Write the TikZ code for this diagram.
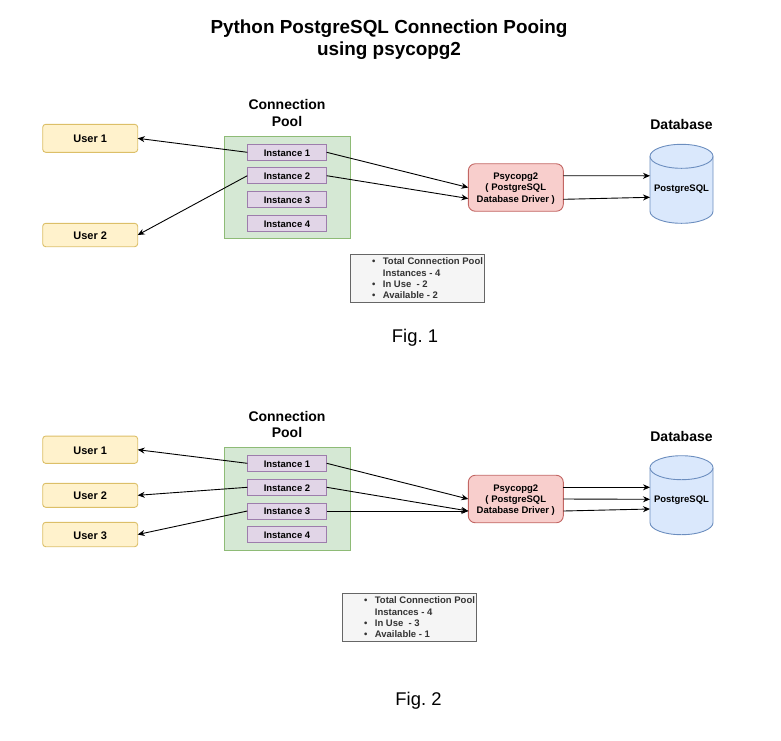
\documentclass[tikz,border=0pt]{standalone}
\usepackage{fontspec}
\setmainfont{Liberation Sans}
\usetikzlibrary{arrows.meta,calc}
\definecolor{yfill}{HTML}{FFF2CC}\definecolor{yline}{HTML}{D6B656}
\definecolor{gfill}{HTML}{D5E8D4}\definecolor{gline}{HTML}{82B366}
\definecolor{pfill}{HTML}{E1D5E7}\definecolor{pline}{HTML}{9673A6}
\definecolor{rfill}{HTML}{F8CECC}\definecolor{rline}{HTML}{B85450}
\definecolor{bfill}{HTML}{DAE8FC}\definecolor{bline}{HTML}{6C8EBF}
\definecolor{ifill}{HTML}{F5F5F5}\definecolor{iline}{HTML}{666666}
\definecolor{itext}{HTML}{333333}
\newcommand{\fs}[2]{\fontsize{#1pt}{#2pt}\selectfont}
\newcommand{\infolist}[3]{{\setlength{\tabcolsep}{0pt}\renewcommand{\arraystretch}{1}%
\begin{tabular}{@{\hspace{20pt}}l@{\hspace{7.5pt}}l@{}}
\textbullet & Total Connection Pool\\
 & Instances - #1\\
\textbullet & In Use~ - #2\\
\textbullet & Available - #3
\end{tabular}}}
\newcommand{\dbbody}[2]{%
  \begin{scope}[shift={(#1,#2)}]
    \draw[dbline] (-31.5,-27.5) arc[start angle=180,end angle=0,x radius=31.5pt,y radius=12pt]
      -- (31.5,27.5) arc[start angle=360,end angle=180,x radius=31.5pt,y radius=12pt] -- cycle;
    \draw[dbline] (-31.5,-27.5) arc[start angle=180,end angle=360,x radius=31.5pt,y radius=12pt];
  \end{scope}}
\tikzset{
  base/.style={inner sep=0pt,outer sep=0pt,line width=0.9pt,align=center,font=\bfseries\fs{9.5}{11.2}},
  userbox/.style={base,draw=yline!85!yfill,fill=yfill,rounded corners=3pt,minimum width=95pt,font=\bfseries\fs{11}{13},text height=9.2pt,text depth=0pt},
  poolbox/.style={base,draw=gline!85!gfill,fill=gfill,minimum width=126pt,minimum height=102.5pt},
  instbox/.style={base,draw=pline!90!pfill,fill=pfill,minimum width=79.4pt,minimum height=16pt,text height=7.8pt,text depth=0pt},
  driverbox/.style={base,draw=rline!85!rfill,fill=rfill,rounded corners=7pt,minimum width=95pt,minimum height=47.5pt,text depth=0pt},
  dbline/.style={draw=bline,fill=bfill,line width=0.9pt},
  dblabel/.style={base,minimum width=63pt,minimum height=79pt,text height=15.4pt,text depth=0pt},
  infobox/.style={base,draw=iline,fill=ifill,text=itext,minimum width=134.4pt,minimum height=48pt,align=left,text height=24pt,text depth=17.2pt},
  headlbl/.style={inner sep=0pt,align=center,font=\bfseries\fs{14}{16.8}},
  titlelbl/.style={inner sep=0pt,align=center,font=\bfseries\fs{18.9}{22}},
  figlbl/.style={inner sep=0pt,font=\fs{18.4}{22}},
  link/.style={draw=black,line width=0.9pt,-{Stealth[length=7pt,width=6pt]}}
}
\begin{document}
\begin{tikzpicture}[x=1pt,y=-1pt]
\useasboundingbox (0,0) rectangle (781,740);
\node[titlelbl] (title) at (389,40) {Python PostgreSQL Connection Pooing\\using psycopg2};

% Fig. 1
\node[userbox,minimum height=28pt] (ua1) at (90.2,138.3) {User 1};
\node[userbox,minimum height=23.4pt] (ua2) at (90.2,235) {User 2};
\node[headlbl] (poolA) at (287,112.8) {Connection\\Pool};
\node[poolbox] (pa) at (287.3,187.5) {};
\node[instbox] (ia1) at (287,152.3) {Instance 1};
\node[instbox] (ia2) at (287,175.7) {Instance 2};
\node[instbox] (ia3) at (287,199.3) {Instance 3};
\node[instbox] (ia4) at (287,223.3) {Instance 4};
\node[driverbox] (da) at (515.8,187.5) {Psycopg2\\( PostgreSQL\\Database Driver )};
\node[headlbl] (dbAl) at (681.5,124) {Database};
\dbbody{681.5}{183.8}
\node[dblabel] (dba) at (681.5,183.8) {PostgreSQL};
\node[infobox] (infoa) at (417.5,278.3) {\infolist{4}{2}{2}};
\node[figlbl] (figa) at (415,338) {Fig.\ 1};
\draw[link] (ia1.west) -- (ua1.east);
\draw[link] (ia2.west) -- (ua2.east);
\draw[link] (ia1.east) -- (da.west);
\draw[link] (ia2.east) -- ($(da.west)+(0,11)$);
\draw[link] ($(da.east)+(0,-11.8)$) -- ($(dba.west)+(0,-8)$);
\draw[link] ($(da.east)+(0,11.8)$) -- ($(dba.west)+(0,13.5)$);

% Fig. 2
\node[userbox,minimum height=27.3pt] (ub1) at (90.2,449.7) {User 1};
\node[userbox,minimum height=24pt] (ub2) at (90.2,495.3) {User 2};
\node[userbox,minimum height=24.4pt] (ub3) at (90.2,534.5) {User 3};
\node[headlbl] (poolB) at (287,424.4) {Connection\\Pool};
\node[poolbox] (pb) at (287.3,499) {};
\node[instbox] (ib1) at (287,463.3) {Instance 1};
\node[instbox] (ib2) at (287,487.3) {Instance 2};
\node[instbox] (ib3) at (287,511) {Instance 3};
\node[instbox] (ib4) at (287,534.3) {Instance 4};
\node[driverbox] (db) at (515.8,499) {Psycopg2\\( PostgreSQL\\Database Driver )};
\node[headlbl] (dbBl) at (681.5,436) {Database};
\dbbody{681.5}{495.2}
\node[dblabel] (dbb) at (681.5,495.2) {PostgreSQL};
\node[infobox] (infob) at (409.5,617.3) {\infolist{4}{3}{1}};
\node[figlbl] (figb) at (418.5,701) {Fig.\ 2};
\draw[link] (ib1.west) -- (ub1.east);
\draw[link] (ib2.west) -- (ub2.east);
\draw[link] (ib3.west) -- (ub3.east);
\draw[link] (ib1.east) -- (db.west);
\draw[link] (ib2.east) -- ($(db.west)+(0,12)$);
\draw[link] (ib3.east) -- ($(db.west)+(0,12)$);
\draw[link] ($(db.east)+(0,-11.7)$) -- ($(dbb.west)+(0,-7.9)$);
\draw[link] (db.east) -- ($(dbb.west)+(0,4.1)$);
\draw[link] ($(db.east)+(0,12)$) -- ($(dbb.west)+(0,13.8)$);
\end{tikzpicture}
\end{document}
